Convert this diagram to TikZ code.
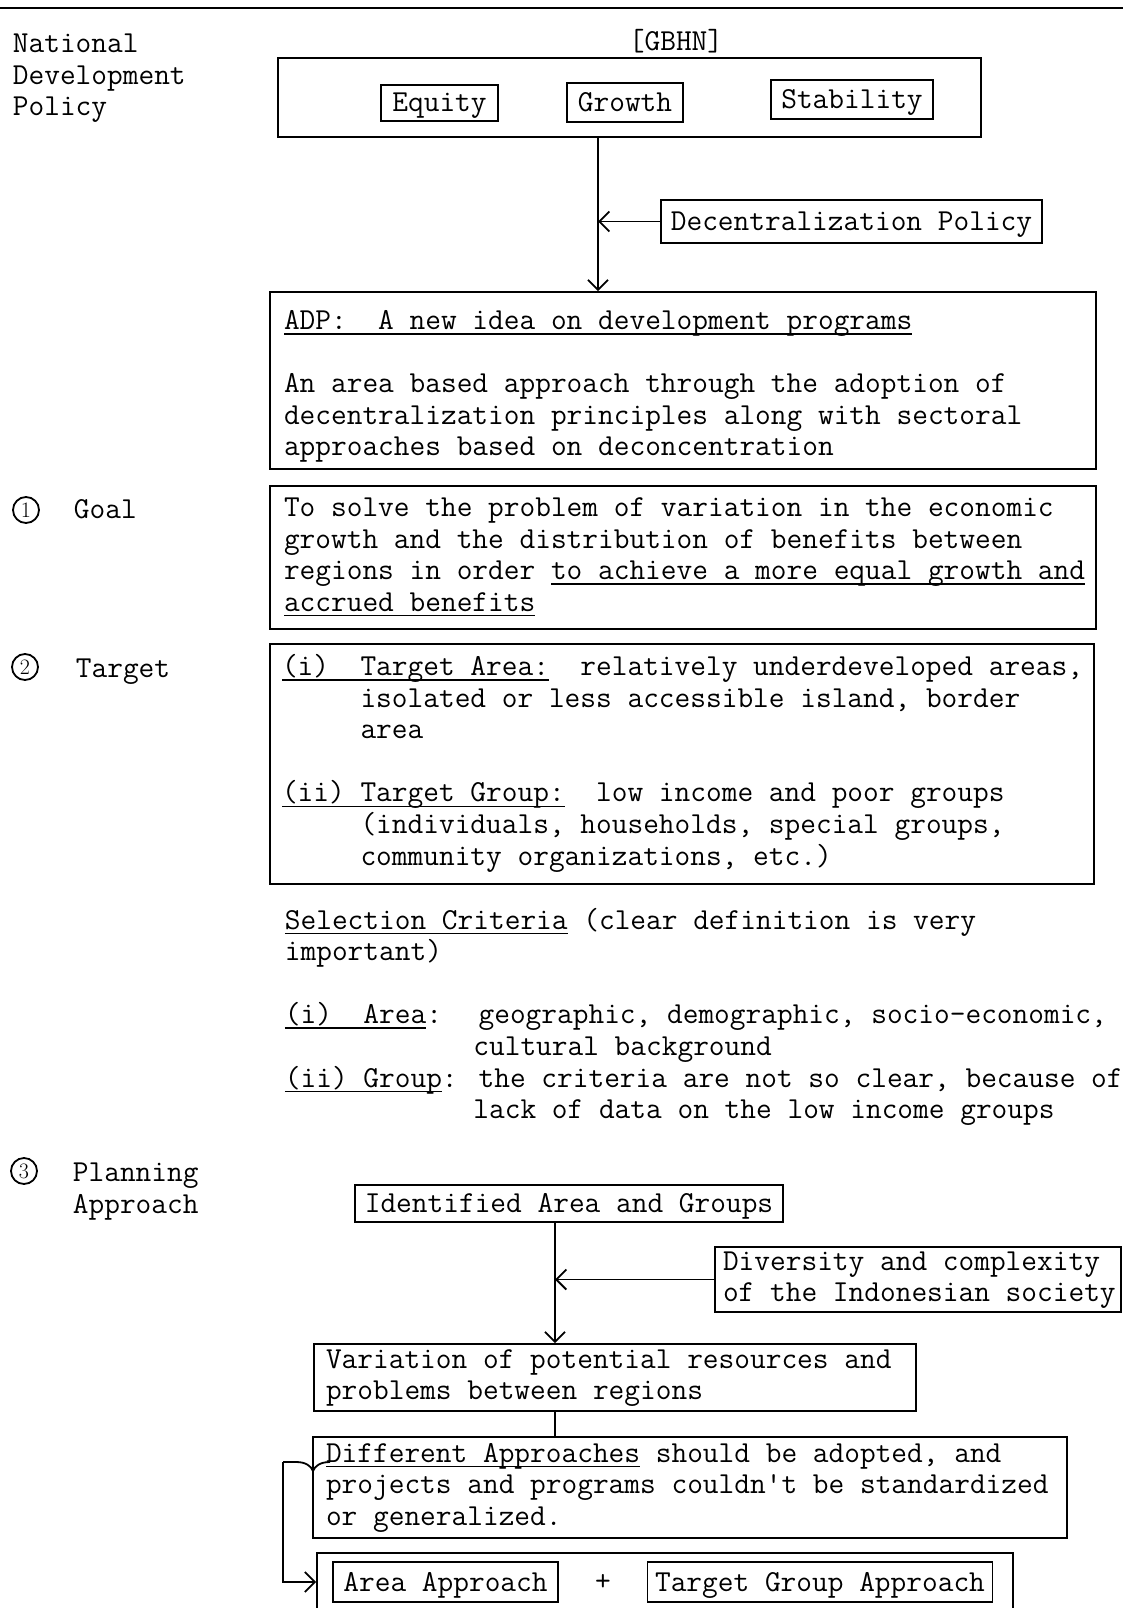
\documentclass[tikz,border=0pt]{standalone}
\usepackage{fontspec}
\usetikzlibrary{arrows.meta}
\newcommand\tw{\fontsize{30.5}{31.6}\selectfont\ttfamily\addfontfeature{FakeBold=0.8}}
\newcommand\nsp{\spaceskip=0pt\xspaceskip=0pt\relax}
\newsavebox\ulbox
\newcommand\uln[1]{\sbox\ulbox{#1}\rlap{\rule[-5pt]{\wd\ulbox}{1.4pt}}\usebox\ulbox}
\begin{document}
\begin{tikzpicture}[x=1pt, y=-1pt, line width=1.8pt,
  box/.style={draw, line width=1.8pt, inner ysep=0pt, align=left, font=\tw,
    execute at begin node=\strut\nsp, execute at end node=\strut},
  sbox/.style={draw, line width=1.8pt, inner sep=0pt, font=\tw,
    text height=18pt, text depth=0pt},
  cbox/.style={draw, line width=1.8pt, inner sep=0pt},
  txt/.style={inner sep=0pt, align=left, font=\tw,
    execute at begin node=\strut\nsp, execute at end node=\strut},
  arr/.style={-{Straight Barb[length=10pt,width=20pt]}, line width=1.8pt},
  circnum/.style={shape=circle, draw, line width=1.8pt, minimum width=26pt,
    minimum height=26pt, inner sep=2pt,
    font=\fontsize{22}{22}\selectfont\rmfamily}]
\clip (0,0) rectangle (1123,1608);
\fill[white] (0,0) rectangle (1123,1608);
% top rule
\coordinate (ruleL) at (0,8);
\coordinate (ruleR) at (1123,8);
\draw[line width=2.5pt] (ruleL) -- (ruleR);

% left labels
\node[txt, anchor=north west] (natl) at (12,33) {National\\Development\\Policy};
\node[circnum] (c1) at (26,510) {1};
\node[txt, anchor=west] (goallbl) at (73,512) {Goal};
\node[circnum] (c2) at (25,667) {2};
\node[txt, anchor=west] (targetlbl) at (75,671) {Target};
\node[circnum] (c3) at (24,1171) {3};
\node[txt, anchor=north west] (planlbl) at (72,1162) {Planning\\Approach};

% GBHN
\node[txt] (gbhnlbl) at (676,44) {[GBHN]};
\node[cbox, minimum width=703pt, minimum height=79pt] (gbhn) at (629.5,97.5) {};
\node[sbox, minimum width=117pt, minimum height=36pt] (equity) at (439.5,103) {Equity};
\node[sbox, minimum width=116pt, minimum height=39pt] (growth) at (625,102.5) {Growth};
\node[sbox, minimum width=162pt, minimum height=39pt] (stability) at (852,99.5) {Stability};

\node[sbox, minimum width=381pt, minimum height=43pt] (decent) at (851.5,221.5) {Decentralization Policy};

\node[box, inner xsep=14pt, text width=798pt, minimum height=177pt] (adp) at (683,380.5) {%
\rule{0pt}{34pt}\mbox{\uln{ADP:~ A new idea on development programs}}\\
\strut\\
\mbox{An area based approach through the adoption of}\\
\mbox{decentralization principles along with sectoral}\\
\mbox{approaches based on deconcentration}};

\coordinate (spine1) at (598,0);
\draw[arr] (gbhn.south -| spine1) -- (adp.north -| spine1);
\draw[arr] (decent.west) -- (decent.west -| spine1);

\node[box, inner xsep=14pt, text width=798pt, minimum height=143pt] (goal) at (683,557.5) {%
\mbox{To solve the problem of variation in the economic}\\
\mbox{growth and the distribution of benefits between}\\
\mbox{regions in order \uln{to achieve a more equal growth and}}\\
\mbox{\uln{accrued benefits}}};

\node[box, inner xsep=12pt, text width=800pt, minimum height=240pt] (target) at (682,764) {%
\mbox{\uln{(i)~ Target Area:}~ relatively underdeveloped areas,}\\
\mbox{\hphantom{00000}isolated or less accessible island, border}\\
\mbox{\hphantom{00000}area}\\
\strut\\
\mbox{\uln{(ii) Target Group:}~ low income and poor groups}\\
\mbox{\hphantom{00000}(individuals, households, special groups,}\\
\mbox{\hphantom{00000}community organizations, etc.)}};

\node[txt, anchor=north west] (selection) at (284,907) {%
\uln{Selection Criteria} (clear definition is very\\
important)\\
\strut\\
\uln{(i)~ Area}:~ geographic, demographic, socio-economic,\\
\hphantom{000000000000}cultural background\\
\uln{(ii) Group}: the criteria are not so clear, because of\\
\hphantom{000000000000}lack of data on the low income groups};

% planning approach
\node[sbox, minimum width=428pt, minimum height=37pt] (ident) at (569,1203.5) {Identified Area and Groups};
\node[box, inner xsep=8pt, text width=390pt, minimum height=65pt] (diversity) at (918,1279.5) {%
\mbox{Diversity and complexity}\\
\mbox{of the Indonesian society}};
\node[box, inner xsep=12pt, text width=578pt, minimum height=67pt] (variation) at (615,1377.5) {%
\mbox{Variation of potential resources and}\\
\mbox{problems between regions}};
\node[box, inner xsep=13pt, text width=728pt, minimum height=101pt] (different) at (690,1487.5) {%
\mbox{\uln{Different Approaches} should be adopted, and}\\
\mbox{projects and programs couldn't be standardized}\\
\mbox{or generalized.}};

\coordinate (spine2) at (555,0);
\draw[arr] (ident.south -| spine2) -- (variation.north -| spine2);
\draw[arr] (diversity.west) -- (diversity.west -| spine2);
\draw (variation.south -| spine2) -- (different.north -| spine2);

\node[cbox, minimum width=696pt, minimum height=97pt] (approaches) at (665,1601.5) {};
\node[sbox, minimum width=225pt, minimum height=40pt] (areaapp) at (445.5,1582) {Area Approach};
\node[txt] (plus) at (603,1584) {+};
\node[sbox, minimum width=345pt, minimum height=40pt] (tgapp) at (820,1582) {Target Group Approach};

% bracket arrow
\coordinate (brk) at (283,1462);
\coordinate (bt) at (313,1471);
\draw (brk) -- (296,1462) .. controls (306,1462) and (311,1466) .. (bt)
  .. controls (315,1466) and (320,1462) .. (330,1462);
\draw[arr] (brk) |- (approaches.west |- areaapp.west);
\end{tikzpicture}
\end{document}
